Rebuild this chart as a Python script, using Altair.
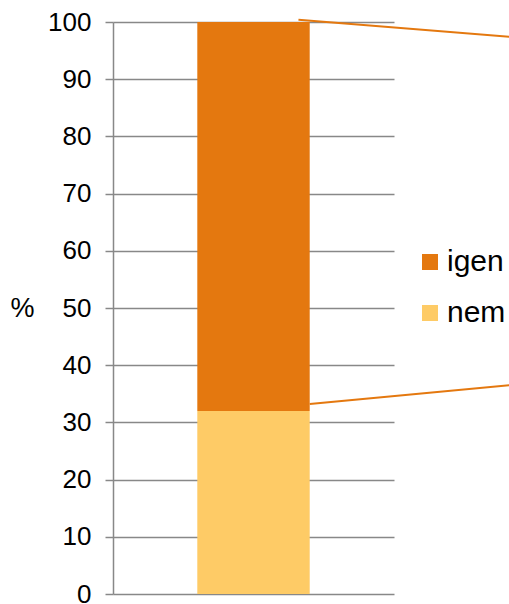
import altair as alt
import pandas as pd

categories = ["igen", "nem"]
values = [68, 32]
stack_order = [1, 0]
colors = ["#E4780F", "#FECB66"]

# connector ("series") lines, in data units
line_x = [6.6, 7.0]
line_x2 = [14.1, 14.1]
line_y = [100.4, 33.2]
line_y2 = [97.4, 36.5]

bars = pd.DataFrame({"cat": categories, "value": values, "order": stack_order})
bars = bars.sort_values("order")
bars["y2"] = bars["value"].cumsum()
bars["y"] = bars["y2"] - bars["value"]
bars["x"] = 3.0
bars["x2"] = 7.0
lines = pd.DataFrame({"x": line_x, "x2": line_x2, "y": line_y, "y2": line_y2})

xscale = alt.Scale(domain=[0, 10], nice=False, zero=False)
yscale = alt.Scale(domain=[0, 100], nice=False)

yaxis = alt.Axis(values=list(range(0, 101, 10)), title="%",
                 titleAngle=0, titleX=-91, titleY=286,
                 titleAlign="center", titleBaseline="middle",
                 titleFont="Liberation Sans", titleFontSize=27,
                 titleFontWeight="normal", titleColor="#000000",
                 labelFont="Liberation Sans", labelFontSize=26,
                 labelColor="#000000", labelPadding=14,
                 tickSize=8, tickColor="#888888", tickWidth=1.5,
                 domainColor="#888888", domainWidth=1.5,
                 grid=True, gridColor="#888888", gridWidth=1.5)

bar = alt.Chart(bars).mark_rect().encode(
    x=alt.X("x:Q", scale=xscale, axis=None),
    x2="x2:Q",
    y=alt.Y("y:Q", scale=yscale, axis=yaxis),
    y2="y2:Q",
    color=alt.Color("cat:N", scale=alt.Scale(domain=categories, range=colors),
                    legend=alt.Legend(title=None, orient="none", legendX=302, legendY=225,
                                      symbolType="square", symbolSize=256,
                                      symbolStrokeWidth=0, labelFontSize=30,
                                      labelFont="Liberation Sans", labelColor="#000000",
                                      labelOffset=2, rowPadding=21)),
)

conn = alt.Chart(lines).mark_rule(color="#E4780F", strokeWidth=2, clip=False).encode(
    x=alt.X("x:Q", scale=xscale, axis=None),
    x2="x2:Q",
    y=alt.Y("y:Q", scale=yscale, axis=yaxis),
    y2="y2:Q",
)

chart = alt.layer(bar, conn).properties(
    width=281, height=572,
    background="#ffffff",
    autosize=alt.AutoSizeParams(type="none"),
    padding={"left": 113, "top": 22, "right": 115, "bottom": 10},
).configure_view(stroke=None)

chart.save("out.html", embed_options={"renderer": "svg", "actions": False})
